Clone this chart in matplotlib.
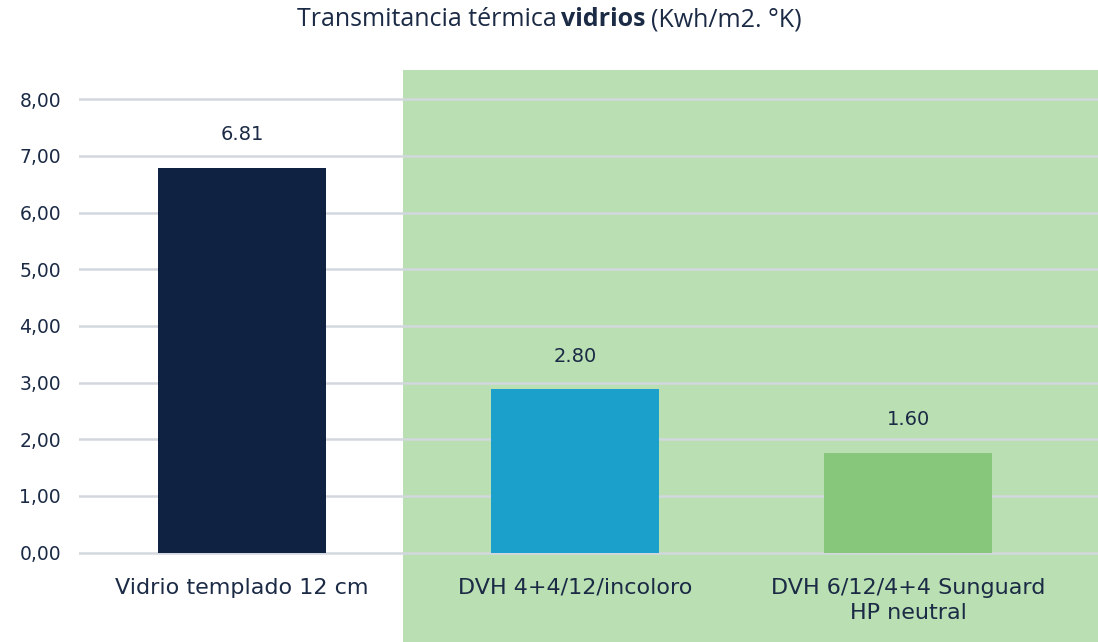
import matplotlib
matplotlib.use("Agg")
import matplotlib.pyplot as plt
from matplotlib.patches import Rectangle
from matplotlib.ticker import FuncFormatter

# data
categorias = ["Vidrio templado 12 cm", "DVH 4+4/12/incoloro", "DVH 6/12/4+4 Sunguard\nHP neutral"]
alturas = [6.78, 2.88, 1.76]          # bar heights as drawn
etiquetas = ["6.81", "2.80", "1.60"]  # value labels as printed
colores = ["#0f2242", "#1aa0cb", "#86c77b"]
yticks = [0, 1, 2, 3, 4, 5, 6, 7, 8]

texto = "#1b2a45"
verde_fondo = "#b9dfb3"

fig = plt.figure(figsize=(10.98, 6.42), dpi=100)
fig.patch.set_facecolor("white")

ax = fig.add_axes([79 / 1098, 0.1347, 1 - 79 / 1098, 0.85 - 0.1347])
ax.patch.set_alpha(0)

# green panel behind the two DVH bars
ax.add_patch(Rectangle((403 / 1098, 0), 1 - 403 / 1098, (642 - 70) / 642,
                       transform=fig.transFigure, facecolor=verde_fondo,
                       edgecolor="none", zorder=0, clip_on=False))

x = list(range(len(categorias)))
ax.bar(x, alturas, width=0.505, color=colores, zorder=3)

for xi, h, s in zip(x, alturas, etiquetas):
    ax.annotate(s, (xi, h), xytext=(0, 24), textcoords="offset points",
                ha="center", va="center", fontsize=14, color=texto)

ax.set_xlim(-0.49, 2.57)
ax.set_ylim(-0.05, 8.05)
ax.set_yticks(yticks)
ax.yaxis.set_major_formatter(FuncFormatter(lambda v, p: f"{v:.2f}".replace(".", ",")))
ax.yaxis.grid(True, color="#d3d8de", linewidth=1.8, zorder=1)
ax.set_axisbelow(True)
ax.set_xticks(x)
ax.set_xticklabels(categorias, fontsize=16, color=texto, linespacing=1.3)
ax.tick_params(axis="x", length=0, pad=16)
ax.tick_params(axis="y", length=0, pad=13, labelsize=13.5, labelcolor=texto)
for sp in ax.spines.values():
    sp.set_visible(False)

# title with a bold word in the middle
ty = 1 - 20 / 642
t1 = fig.text(0.5, ty, "Transmitancia térmica", fontsize=18, color=texto,
              family="Open Sans", ha="left", va="center")
t2 = fig.text(0, 0, "vidrios", fontsize=18, color=texto, family="Open Sans",
              fontweight="bold", ha="left", va="center")
t3 = fig.text(0, 0, "(Kwh/m2. °K)", fontsize=18, color=texto, family="Open Sans",
              ha="left", va="center")
fig.canvas.draw()
r = fig.canvas.get_renderer()
sp_w = 5
b1 = t1.get_window_extent(r)
t2.set_position(((b1.x1 + sp_w) / fig.bbox.width, ty))
b2 = t2.get_window_extent(r)
t3.set_position(((b2.x1 + sp_w) / fig.bbox.width, ty))
b3 = t3.get_window_extent(r)
total = b3.x1 - b1.x0
shift = (fig.bbox.width - total) / 2 - b1.x0
for t in (t1, t2, t3):
    px, py = t.get_position()
    t.set_position((px + shift / fig.bbox.width, py))

fig.savefig("out.png", dpi=100)
